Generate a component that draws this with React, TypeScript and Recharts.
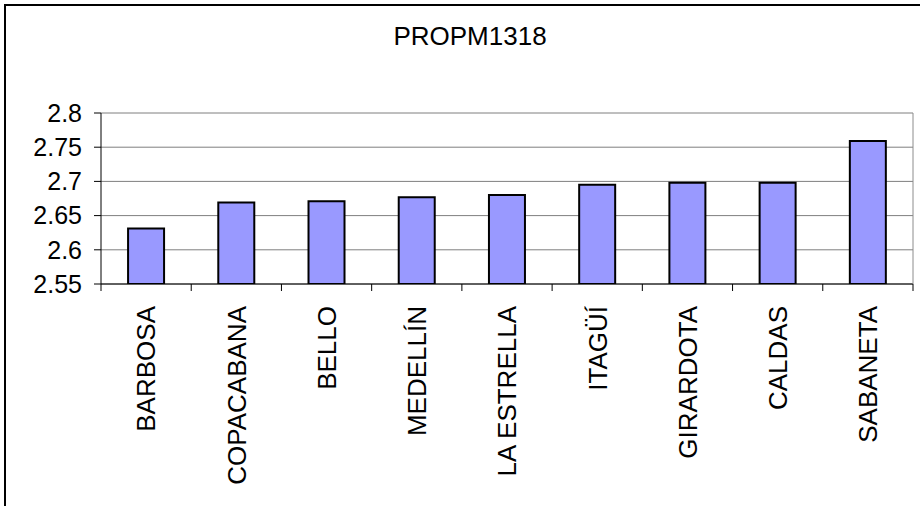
import React from "react";
import { BarChart, Bar, XAxis, YAxis, CartesianGrid } from "recharts";

const categories = [
  "BARBOSA",
  "COPACABANA",
  "BELLO",
  "MEDELLÍN",
  "LA ESTRELLA",
  "ITAGÜÍ",
  "GIRARDOTA",
  "CALDAS",
  "SABANETA",
];
const values = [2.631, 2.669, 2.671, 2.677, 2.68, 2.695, 2.698, 2.698, 2.759];
const yTicks = [2.55, 2.6, 2.65, 2.7, 2.75, 2.8];
const title = "PROPM1318";

const data = categories.map((name, i) => ({ name, value: values[i] }));

const W = 920;
const H = 506;
const Y_AXIS_W = 101;
const RIGHT = 7;
const PLOT_W = W - Y_AXIS_W - RIGHT;
const FONT = "'Liberation Sans', Arial, sans-serif";
const FS = 26;
const FS_Y = 25;

// category tick: boundary tick marks between bands plus a vertical label
const CategoryTick = (props: any) => {
  const { x, y, payload, index } = props;
  const step = PLOT_W / categories.length;
  const last = index === categories.length - 1;
  const ty = y + 22;
  return (
    <g>
      <line x1={x - step / 2} x2={x - step / 2} y1={y} y2={y + 7} stroke="#000" strokeWidth={1} />
      {last && <line x1={x + step / 2} x2={x + step / 2} y1={y} y2={y + 7} stroke="#000" strokeWidth={1} />}
      <text
        x={x}
        y={ty}
        transform={`rotate(-90, ${x}, ${ty})`}
        textAnchor="end"
        dy="0.36em"
        fontFamily={FONT}
        fontSize={FS}
        fill="#000"
      >
        {payload.value}
      </text>
    </g>
  );
};

export default function App() {
  return (
    <div style={{ position: "absolute", left: 0, top: 0, width: W, height: H, overflow: "hidden", background: "#fff" }}>
      <div
        style={{
          position: "absolute",
          left: 4,
          top: 4,
          width: W,
          height: H,
          borderLeft: "2px solid #000",
          borderTop: "2px solid #000",
          boxSizing: "border-box",
        }}
      />
      <div
        style={{
          position: "absolute",
          left: 320,
          width: 300,
          top: 21,
          textAlign: "center",
          fontFamily: FONT,
          fontSize: FS,
          lineHeight: "30px",
          color: "#000",
        }}
      >
        {title}
      </div>
      <div style={{ position: "absolute", left: 0, top: 0 }}>
        <BarChart
          width={W}
          height={H}
          data={data}
          margin={{ top: 113, right: 0, bottom: 0, left: 0 }}
          barCategoryGap="30%"
        >
          <CartesianGrid vertical={false} stroke="#7f7f7f" strokeWidth={1} />
          <XAxis
            dataKey="name"
            height={222}
            interval={0}
            tickLine={false}
            tickSize={0}
            tickMargin={0}
            axisLine={{ stroke: "#000", strokeWidth: 1 }}
            tick={<CategoryTick />}
          />
          <YAxis
            domain={[2.55, 2.8]}
            ticks={yTicks}
            width={Y_AXIS_W}
            tickSize={7}
            tickMargin={12}
            interval={0}
            allowDataOverflow
            axisLine={{ stroke: "#000", strokeWidth: 1 }}
            tickLine={{ stroke: "#000", strokeWidth: 1 }}
            tick={{ fontFamily: FONT, fontSize: FS_Y, fill: "#000" }}
          />
          <YAxis
            yAxisId="edge"
            orientation="right"
            width={RIGHT}
            tick={false}
            tickLine={false}
            axisLine={{ stroke: "#8c8c8c", strokeWidth: 1 }}
          />
          <Bar dataKey="value" fill="#9999ff" stroke="#000" strokeWidth={2} isAnimationActive={false} />
        </BarChart>
      </div>
    </div>
  );
}
